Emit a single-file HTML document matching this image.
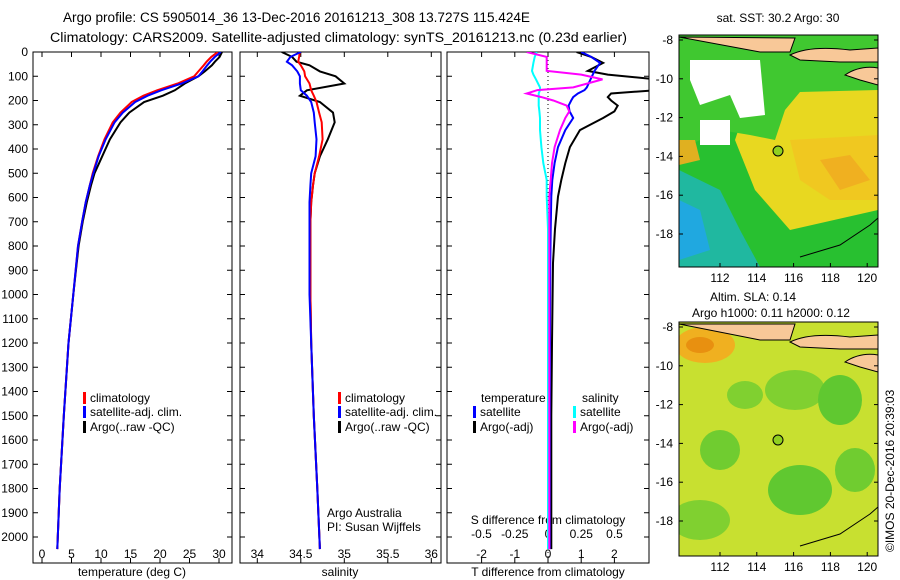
<!DOCTYPE html>
<html><head><meta charset="utf-8"><style>
body{margin:0;background:#fff;}
svg{display:block;font-family:"Liberation Sans",sans-serif;}
text{font-size:12px;fill:#000;}
</style></head><body>
<svg id="fig" width="900" height="580" viewBox="0 0 900 580">
<defs>
<clipPath id="c1"><rect x="33" y="52" width="199" height="511"/></clipPath>
<clipPath id="c2"><rect x="240" y="52" width="201" height="511"/></clipPath>
<clipPath id="c3"><rect x="447" y="52" width="202" height="511"/></clipPath>
<clipPath id="cm1"><rect x="679" y="35" width="199" height="232"/></clipPath>
<clipPath id="cm2"><rect x="679" y="322" width="199" height="234"/></clipPath>
</defs>
<text x="63" y="22" textLength="467" lengthAdjust="spacingAndGlyphs" style="font-size:13.5px">Argo profile: CS 5905014_36 13-Dec-2016 20161213_308 13.727S 115.424E</text>
<text x="50" y="42" textLength="577" lengthAdjust="spacingAndGlyphs" style="font-size:13.5px">Climatology: CARS2009. Satellite-adjusted climatology: synTS_20161213.nc (0.23d earlier)</text>

<!-- Top map -->
<g clip-path="url(#cm1)">
<rect x="679" y="35" width="199" height="232" fill="#e8d820"/>
<path d="M679 35 L770 35 L770 80 L745 110 L735 140 L755 190 L790 230 L878 210 L878 267 L679 267Z" fill="#28c030"/>
<path d="M679 170 L720 190 L740 230 L760 267 L679 267Z" fill="#20b8a0"/>
<path d="M679 200 L700 210 L710 250 L679 260Z" fill="#20a8e0"/>
<path d="M679 110 L690 110 L690 140 L679 140Z" fill="#1060d0"/>
<path d="M679 35 L878 35 L878 90 L800 92 L785 110 L775 140 L750 135 L720 130 L700 140 L679 150Z" fill="#40c830"/>
<path d="M690 60 L760 60 L765 115 L740 118 L730 95 L700 105 L690 80Z" fill="#fff"/>
<rect x="700" y="120" width="30" height="25" fill="#fff"/>
<path d="M790 140 L878 135 L878 200 L830 200 L800 180Z" fill="#f0c820"/>
<path d="M820 160 L850 155 L870 180 L840 190Z" fill="#f0b020"/>
<path d="M679 140 L695 140 L700 160 L679 165Z" fill="#e0b020"/>
<path d="M679 37 L760 52 L790 52 L795 38Z" fill="#f8c898" stroke="#000" stroke-width="1"/>
<path d="M790 55 Q810 45 850 50 L878 48 L878 62 L840 62 L800 60Z" fill="#f8c898" stroke="#000" stroke-width="1"/>
<path d="M845 75 Q860 65 878 68 L878 85 L860 80Z" fill="#f8c898" stroke="#000" stroke-width="1"/>
<path d="M800 257 L840 245 L870 225 L878 218" fill="none" stroke="#000"/>
<circle cx="778" cy="151" r="5" fill="#90d020" stroke="#000"/>
</g>
<rect x="679" y="35" width="199" height="232" fill="none" stroke="#000"/>
<text x="778" y="22" text-anchor="middle">sat. SST: 30.2 Argo: 30</text>

<!-- Bottom map -->
<g clip-path="url(#cm2)">
<rect x="679" y="322" width="199" height="234" fill="#c8e030"/>
<ellipse cx="705" cy="345" rx="30" ry="18" fill="#f0b020"/>
<ellipse cx="700" cy="345" rx="14" ry="8" fill="#e89010"/>
<ellipse cx="795" cy="390" rx="30" ry="20" fill="#80d030"/>
<ellipse cx="745" cy="395" rx="18" ry="14" fill="#80d030"/>
<ellipse cx="840" cy="400" rx="22" ry="25" fill="#60c830"/>
<ellipse cx="800" cy="490" rx="32" ry="25" fill="#60c830"/>
<ellipse cx="720" cy="450" rx="20" ry="20" fill="#70cc30"/>
<ellipse cx="855" cy="470" rx="20" ry="22" fill="#70cc30"/>
<ellipse cx="700" cy="520" rx="30" ry="20" fill="#80d030"/>
<path d="M679 324 L760 340 L790 340 L795 324Z" fill="#f8c898" stroke="#000"/>
<path d="M790 342 Q810 332 850 337 L878 335 L878 349 L840 349 L800 347Z" fill="#f8c898" stroke="#000"/>
<path d="M845 362 Q860 352 878 355 L878 372 L860 367Z" fill="#f8c898" stroke="#000"/>
<path d="M800 546 L840 534 L870 514 L878 507" fill="none" stroke="#000"/>
<circle cx="778" cy="440" r="5" fill="#90d020" stroke="#000"/>
</g>
<rect x="679" y="322" width="199" height="234" fill="none" stroke="#000"/>
<text x="710" y="301">Altim. SLA: 0.14</text>
<text x="692" y="317">Argo h1000: 0.11 h2000: 0.12</text>
<text transform="translate(894,552) rotate(-90)">©IMOS 20-Dec-2016 20:39:03</text>

<g id="dyn"></g>
</svg>
<script>
const depths=[0,20,40,55,80,100,130,158,180,206,250,290,360,430,500,550,620,700,800,1000,1200,1500,1800,2050];
const tempClim=[29.8,28.7,27.9,27.4,26.5,25.8,23,19.5,17.2,15.2,13.3,12,10.6,9.5,8.6,8.1,7.4,6.8,6.1,5.3,4.5,3.7,3.0,2.6];
const tempSat=[30.3,29.3,28.5,28,27.2,26.5,23.7,20.2,17.9,15.8,13.7,12.3,10.8,9.6,8.7,8.1,7.4,6.8,6.1,5.3,4.5,3.7,3.0,2.6];
const tempArgo=[30.5,30.1,29.3,28.8,27.6,26.5,24.2,22.5,20.5,17.3,14.8,13.3,11.5,10.2,8.9,8.3,7.6,6.9,6.2,5.3,4.5,3.7,3.0,2.6];
const salClim=[34.49,34.48,34.47,34.5,34.54,34.55,34.6,34.62,34.65,34.68,34.71,34.74,34.75,34.71,34.66,34.64,34.62,34.61,34.61,34.61,34.62,34.65,34.69,34.72];
const salSat=[34.5,34.38,34.34,34.4,34.46,34.49,34.49,34.5,34.57,34.62,34.65,34.66,34.68,34.67,34.62,34.61,34.6,34.6,34.6,34.6,34.62,34.65,34.69,34.72];
const salArgo=[34.28,34.4,34.45,34.6,34.72,34.9,35.0,34.57,34.49,34.72,34.87,34.89,34.81,34.72,34.66,34.64,34.62,34.61,34.61,34.61,34.62,34.65,34.69,34.72];
const diffDepths=[0,20,45,78,93,113,146,157,171,186,200,221,245,272,322,392,458,528,596,730,870,1200,1500,2050];
const tDiffSat=[1.0,1.3,1.57,1.4,1.35,1.28,1.17,1.1,0.9,0.76,0.7,0.62,0.65,0.76,0.52,0.3,0.2,0.13,0.1,0.08,0.07,0.06,0.05,0.05];
const tDiffArgo=[0.86,1.3,1.66,1.2,1.8,3.3,3.3,3.3,1.9,1.8,1.9,2.1,2.0,1.66,0.96,0.66,0.52,0.4,0.3,0.21,0.15,0.12,0.1,0.1];
const sDiffArgo=[-0.16,-0.01,-0.01,-0.01,0.25,0.41,0.19,-0.08,-0.16,-0.05,0.04,0.14,0.16,0.13,0.09,0.05,0.03,0.02,0.01,0.01,0.01,0.01,0.01,0.01];
const sDiffSat=[-0.085,-0.1,-0.11,-0.12,-0.11,-0.09,-0.06,-0.06,-0.07,-0.07,-0.07,-0.07,-0.065,-0.06,-0.06,-0.05,-0.035,-0.01,-0.01,0,0,0,0,0];
const depthTicks=[0,100,200,300,400,500,600,700,800,900,1000,1100,1200,1300,1400,1500,1600,1700,1800,1900,2000];
const tempTicks=[0,5,10,15,20,25,30];
const salTicks=[34,34.5,35,35.5,36];
const tdTicks=[-2,-1,0,1,2];
const sdTicks=[-0.5,-0.25,0,0.25,0.5];
const sdLabels=["-0.5","-0.25","0","0.25","0.5"];

const NS="http://www.w3.org/2000/svg";
const g=document.getElementById('dyn');
function mk(tag,attrs,parent){const e=document.createElementNS(NS,tag);for(const k in attrs)e.setAttribute(k,attrs[k]);(parent||g).appendChild(e);return e;}
const yD=d=>52+d*0.2425;
const xT=v=>42+v*5.9;
const xS=v=>257.3+(v-34)*87;
const xTD=v=>548+v*33.2;
const xSD=v=>548+v*133;

function panel(x0,w,name){
  const r=mk('rect',{x:x0,y:52,width:w,height:511,fill:'none',stroke:'#000'});
  
  
  depthTicks.forEach(d=>{
    const t=mk('line',{x1:x0,x2:x0+5,y1:yD(d),y2:yD(d),stroke:'#000'});
    
    
    const t2=mk('line',{x1:x0+w-5,x2:x0+w,y1:yD(d),y2:yD(d),stroke:'#000'});
    
    
  });
}
panel(33,199,'temperature-panel');
panel(240,201,'salinity-panel');
panel(447,202,'difference-panel');
depthTicks.forEach(d=>{
  const t=mk('text',{x:28,y:yD(d)+4,'text-anchor':'end'});
  t.textContent=d;
  
  
});
function xticks(vals,fx,labels,ylab){
  vals.forEach((v,i)=>{
    const l=mk('line',{x1:fx(v),x2:fx(v),y1:563,y2:558,stroke:'#000'});
    
    
    const l2=mk('line',{x1:fx(v),x2:fx(v),y1:52,y2:57,stroke:'#000'});
    
    
    const t=mk('text',{x:fx(v),y:ylab,'text-anchor':'middle'});
    t.textContent=labels?labels[i]:v;
    
    
  });
}
xticks(tempTicks,xT,null,558);
xticks(salTicks,xS,null,558);
xticks(tdTicks,xTD,null,558);
sdTicks.forEach((v,i)=>{
  const t=mk('text',{x:xSD(v),y:538,'text-anchor':'middle'});
  t.textContent=sdLabels[i];
  
  
});
function label(x,y,s,name,anchor){const t=mk('text',{x:x,y:y,'text-anchor':anchor||'start'});t.textContent=s;
  
  return t;}
label(132,576,'temperature (deg C)','temperature-axis-title','middle');
label(340,576,'salinity','salinity-axis-title','middle');
label(548,576,'T difference from climatology','t-diff-axis-title','middle');
label(548,524,'S difference from climatology','s-diff-axis-title','middle');

function series(vals,dep,fx,color,clip,name){
  const pts=vals.map((v,i)=>fx(v).toFixed(1)+','+yD(dep[i]).toFixed(1)).join(' ');
  const p=mk('polyline',{points:pts,fill:'none',stroke:color,'stroke-width':2,'clip-path':'url(#'+clip+')'});
  
  
}
const zl=mk('line',{x1:548,x2:548,y1:52,y2:563,stroke:'#000','stroke-dasharray':'1,3'});


series(tempArgo,depths,xT,'#000','c1','temp-argo-line');
series(tempClim,depths,xT,'#ff0000','c1','temp-climatology-line');
series(tempSat,depths,xT,'#0000ff','c1','temp-satellite-line');
series(salArgo,depths,xS,'#000','c2','sal-argo-line');
series(salClim,depths,xS,'#ff0000','c2','sal-climatology-line');
series(salSat,depths,xS,'#0000ff','c2','sal-satellite-line');
series(tDiffArgo,diffDepths,xTD,'#000','c3','tdiff-argo-line');
series(tDiffSat,diffDepths,xTD,'#0000ff','c3','tdiff-satellite-line');
series(sDiffSat,diffDepths,xSD,'#00ffff','c3','sdiff-satellite-line');
series(sDiffArgo,diffDepths,xSD,'#ff00ff','c3','sdiff-argo-line');

function legend(x,y,color,s,name){
  const r=mk('rect',{x:x,y:y-10,width:3,height:12,fill:color});
  
  
  label(x+7,y,s,name);
}
legend(83,402,'#ff0000','climatology','legend-climatology');
legend(83,416,'#0000ff','satellite-adj. clim.','legend-satellite');
legend(83,431,'#000','Argo(..raw -QC)','legend-argo');
legend(338,402,'#ff0000','climatology','legend-sal-climatology');
legend(338,416,'#0000ff','satellite-adj. clim.','legend-sal-satellite');
legend(338,431,'#000','Argo(..raw -QC)','legend-sal-argo');
label(481,402,'temperature','legend-temperature-header');
legend(473,416,'#0000ff','satellite','legend-tdiff-satellite');
legend(473,431,'#000','Argo(-adj)','legend-tdiff-argo');
label(582,402,'salinity','legend-salinity-header');
legend(573,416,'#00ffff','satellite','legend-sdiff-satellite');
legend(573,431,'#ff00ff','Argo(-adj)','legend-sdiff-argo');
label(327,517,'Argo Australia','credit-agency');
label(327,531,'PI: Susan Wijffels','credit-pi');

const lonTicks=[112,114,116,118,120];
const latTicks=[-8,-10,-12,-14,-16,-18];
function mapAxes(y8,bottom){
  lonTicks.forEach(v=>{
    const x=720+(v-112)*18.4;
    const l=mk('line',{x1:x,x2:x,y1:bottom,y2:bottom-4,stroke:'#000'});
    
    
    label(x,bottom+15,String(v),'lon-tick-label','middle');
  });
  latTicks.forEach(v=>{
    const y=y8+(-8-v)*19.4;
    const l=mk('line',{x1:679,x2:683,y1:y,y2:y,stroke:'#000'});
    
    
    const l2=mk('line',{x1:874,x2:878,y1:y,y2:y,stroke:'#000'});
    
    
    label(673,y+4,String(v),'lat-tick-label','end');
  });
}
mapAxes(40,267);
mapAxes(327,556);
</script>
</body></html>
